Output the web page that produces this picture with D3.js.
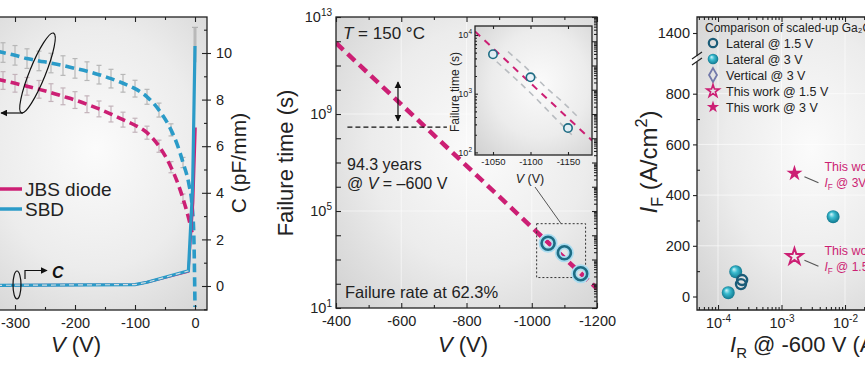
<!DOCTYPE html>
<html>
<head>
<meta charset="utf-8">
<script src="https://cdn.jsdelivr.net/npm/d3@7"></script>
<style>
  body { margin: 0; background: #fff; }
  svg { display: block; }
</style>
</head>
<body>
<svg id="fig" width="865" height="370"></svg>
<script>
// ---- (a) C-V and forward trace, voltages in V, C in pF/mm ----
const cvVolts = [-330, -320, -300, -280, -260, -240, -220, -200, -180, -160, -140, -120, -100, -80, -60, -40, -30, -20, -10, -5, -2, 0]
const sbdCap = [10.08, 10.02, 9.9, 9.76, 9.66, 9.57, 9.46, 9.34, 9.22, 9.07, 8.9, 8.7, 8.47, 8.12, 7.55, 6.7, 6.1, 5.3, 4.35, 3.5, 2.2, -0.9]
const jbsCap = [8.88, 8.82, 8.7, 8.57, 8.44, 8.3, 8.14, 7.98, 7.8, 7.6, 7.38, 7.14, 6.9, 6.58, 6.0, 5.1, 4.5, 3.75, 2.85, 2.3, null, null]
const errVolts = [-320, -300, -280, -260, -240, -220, -200, -180, -160, -140, -120, -100, -80, -60, -40, -20]
const sbdErr = [0.42, 0.42, 0.42, 0.42, 0.42, 0.42, 0.42, 0.4, 0.4, 0.4, 0.38, 0.36, 0.32, 0.3, 0.26, 0.22]
const jbsErr = [0.38, 0.38, 0.38, 0.38, 0.38, 0.36, 0.36, 0.36, 0.34, 0.34, 0.32, 0.3, 0.28, 0.26, 0.24, 0.2]
// current traces (left axis is cropped away, drawn on the C scale)
const sbdIvVolts = [-330, -100, -80, -11, -4, -1.5, 0]
const sbdCur = [0.03, 0.06, 0.16, 0.65, 4.2, 8.0, 10.3]
const jbsIvVolts = [-330, -100, -80, -11, -3, 1]
const jbsCur = [0.03, 0.06, 0.16, 0.62, 3.6, 6.8]
const spikeErr = [9.6, 11.1]

// ---- (b) TDDB lifetime, T = 150 C ----
const tddbVolts = [-1050, -1100, -1150]
const tddbTimes = [4.7e3, 1.9e3, 2.6e2]
const fitVolts = [-400, -1200]
const fitTimes = [8.5e11, 63]
const insetFitVolts = [-1026, -1182]
const insetFitTimes = [1.15e4, 1.6e2]
const bandUpVolts = [-1070, -1095, -1120, -1145, -1165]
const bandUpTimes = [5.2e3, 2.7e3, 1.3e3, 6.8e2, 3.8e2]
const bandLoVolts = [-1055, -1080, -1105, -1130, -1155]
const bandLoTimes = [3.5e3, 1.8e3, 8.9e2, 4.2e2, 2.0e2]
const lifeVolts = [-435, -740]
const lifeTime = 2.9e8
const arrowVolt = -590
const arrowTimes = [2.1e10, 5.2e8]

// ---- (c) benchmark, IR in A/cm2, IF in A/cm2 ----
const lat15IR = [2.4e-4, 2.3e-4]
const lat15IF = [65, 49]
const lat3IR = [1.9e-4, 1.45e-4, 6.5e-3]
const lat3IF = [98, 15, 315]
const work15IR = [1.6e-3]
const work15IF = [157]
const work3IR = [1.6e-3]
const work3IF = [486]
const legendLabels = ['Lateral @ 1.5 V', 'Lateral @ 3 V', 'Vertical @ 3 V', 'This work @ 1.5 V', 'This work @ 3 V']

const ink = '#222'
const pink = '#cc1f74'
const blue = '#2b9bc8'
const teal = '#1d6c84'

const svg = d3.select('#fig')
  .attr('font-family', '"Liberation Sans", Arial, Helvetica, sans-serif')
const defs = svg.append('defs')

const bg = defs.append('radialGradient').attr('id', 'bgGrad')
  .attr('cx', '55%').attr('cy', '45%').attr('r', '75%')
bg.append('stop').attr('offset', '0').attr('stop-color', '#fbfbfb')
bg.append('stop').attr('offset', '0.55').attr('stop-color', '#ececec')
bg.append('stop').attr('offset', '1').attr('stop-color', '#d2d2d2')

const sph = defs.append('radialGradient').attr('id', 'sphere')
  .attr('cx', '50%').attr('cy', '50%').attr('r', '55%').attr('fx', '35%').attr('fy', '30%')
sph.append('stop').attr('offset', '0').attr('stop-color', '#d6f7fb')
sph.append('stop').attr('offset', '0.4').attr('stop-color', '#3bbcd0')
sph.append('stop').attr('offset', '1').attr('stop-color', '#0c6f86')

defs.append('marker').attr('id', 'arrow')
  .attr('viewBox', '0 0 10 10').attr('refX', 9).attr('refY', 5)
  .attr('markerWidth', 7).attr('markerHeight', 7).attr('markerUnits', 'userSpaceOnUse')
  .attr('orient', 'auto-start-reverse')
  .append('path').attr('d', 'M0,0 L10,5 L0,10 z').attr('fill', '#111')

function clip(id, p) {
  defs.append('clipPath').attr('id', id).append('rect')
    .attr('x', p.left).attr('y', p.top)
    .attr('width', p.right - p.left).attr('height', p.bottom - p.top)
}

function panelBg(p) {
  svg.append('rect')
    .attr('x', p.left).attr('y', p.top)
    .attr('width', p.right - p.left).attr('height', p.bottom - p.top)
    .attr('fill', 'url(#bgGrad)')
}

function frame(p) {
  svg.append('rect')
    .attr('x', p.left).attr('y', p.top)
    .attr('width', p.right - p.left).attr('height', p.bottom - p.top)
    .attr('fill', 'none').attr('stroke', ink).attr('stroke-width', 1.3)
}

function axisGroup(gen, tx, ty, size) {
  const a = svg.append('g')
    .attr('transform', `translate(${tx},${ty})`)
    .call(gen)
  a.attr('font-family', null).attr('font-size', size || 14.5)
  a.select('.domain').remove()
  a.selectAll('.tick line').attr('stroke', ink).attr('stroke-width', 1.1)
  a.selectAll('.tick text').attr('fill', ink)
  return a
}

// "10" with a raised exponent
function supLabels(a, supSize, dy) {
  a.selectAll('.tick text').each(function(d) {
    const t = d3.select(this)
    if (t.text() === '') return
    t.text(null)
    t.append('tspan').text('10')
    t.append('tspan').attr('dy', dy).attr('font-size', supSize).text(Math.round(Math.log10(d)))
  })
}

function logMinor(lo, hi) {
  const out = []
  for (let e = lo; e < hi; e++) for (let m = 2; m < 10; m++) out.push(m * Math.pow(10, e))
  return out
}

// text with italic / sub / sup pieces
function richText(x, y, parts, opts) {
  const t = svg.append('text')
    .attr('x', x).attr('y', y)
    .attr('font-size', opts.size)
    .attr('fill', opts.fill || ink)
    .attr('text-anchor', opts.anchor || 'start')
  if (opts.rotate) t.attr('transform', `rotate(-90 ${x} ${y})`)
  let shift = 0
  parts.forEach(function(part) {
    const keys = (part[1] || '').split(' ')
    const ts = t.append('tspan').text(part[0])
    if (keys.includes('i')) ts.attr('font-style', 'italic')
    if (keys.includes('b')) ts.attr('font-weight', 'bold')
    let target = 0
    if (keys.includes('sub')) { target = opts.size * 0.25; ts.attr('font-size', opts.size * 0.68) }
    if (keys.includes('sup')) { target = -opts.size * 0.4; ts.attr('font-size', opts.size * 0.68) }
    if (target !== shift) { ts.attr('dy', target - shift); shift = target }
  })
  return t
}

// =============== panel (a) ===============
const p1 = {left: -40, right: 207, top: 17, bottom: 310}
const x1 = d3.scaleLinear().domain([-300, 0]).range([15, 195])
const y1 = d3.scaleLinear().domain([0, 10]).range([286, 53])
panelBg(p1)
clip('clip1', p1)
const g1 = svg.append('g').attr('clip-path', 'url(#clip1)')

// error bars
function errorBars(caps, errs, color) {
  errVolts.forEach(function(v, i) {
    const c = caps[cvVolts.indexOf(v)]
    const xx = x1(v)
    const top = y1(c + errs[i])
    const bot = y1(c - errs[i])
    const eb = g1.append('g').attr('stroke', color).attr('stroke-width', 1.2)
    eb.append('line').attr('x1', xx).attr('x2', xx).attr('y1', top).attr('y2', bot)
    eb.append('line').attr('x1', xx - 2.5).attr('x2', xx + 2.5).attr('y1', top).attr('y2', top)
    eb.append('line').attr('x1', xx - 2.5).attr('x2', xx + 2.5).attr('y1', bot).attr('y2', bot)
  })
}
errorBars(sbdCap, sbdErr, '#b7b7b7')
errorBars(jbsCap, jbsErr, '#c3b3ba')

const cvLine = d3.line()
  .defined(d => d[1] !== null)
  .x(d => x1(d[0]))
  .y(d => y1(d[1]))
  .curve(d3.curveMonotoneX)

g1.append('path').datum(d3.zip(cvVolts, jbsCap))
  .attr('d', cvLine).attr('fill', 'none')
  .attr('stroke', pink).attr('stroke-width', 3.6).attr('stroke-dasharray', '9 5')
g1.append('path').datum(d3.zip(cvVolts, sbdCap))
  .attr('d', cvLine).attr('fill', 'none')
  .attr('stroke', blue).attr('stroke-width', 3.6).attr('stroke-dasharray', '9 5')

// forward spike error bar
const spx = x1(0)
g1.append('line').attr('x1', spx).attr('x2', spx)
  .attr('y1', y1(spikeErr[0])).attr('y2', y1(spikeErr[1]))
  .attr('stroke', '#b9b9b9').attr('stroke-width', 3)
g1.append('line').attr('x1', spx - 3).attr('x2', spx + 3)
  .attr('y1', y1(spikeErr[1])).attr('y2', y1(spikeErr[1]))
  .attr('stroke', '#b0b0b0').attr('stroke-width', 1.2)

const ivLine = d3.line().x(d => x1(d[0])).y(d => y1(d[1]))
g1.append('path').datum(d3.zip(jbsIvVolts, jbsCur))
  .attr('d', ivLine).attr('fill', 'none')
  .attr('stroke', pink).attr('stroke-width', 2.4)
g1.append('path').datum(d3.zip(sbdIvVolts, sbdCur))
  .attr('d', ivLine).attr('fill', 'none')
  .attr('stroke', blue).attr('stroke-width', 3.2)
g1.append('path').datum(d3.zip(sbdIvVolts.slice(0, 4), sbdCur.slice(0, 4)))
  .attr('d', ivLine).attr('fill', 'none')
  .attr('stroke', '#d6dde2').attr('stroke-width', 1.2).attr('stroke-dasharray', '5 4')

// axis annotations (ellipses + arrows)
svg.append('ellipse')
  .attr('cx', 37.5).attr('cy', 73).attr('rx', 8).attr('ry', 43)
  .attr('transform', 'rotate(22 37.5 73)')
  .attr('fill', 'none').attr('stroke', '#111').attr('stroke-width', 1.2)
svg.append('line')
  .attr('x1', 23).attr('y1', 113).attr('x2', 1).attr('y2', 113)
  .attr('stroke', '#111').attr('stroke-width', 1.2).attr('marker-end', 'url(#arrow)')
svg.append('ellipse')
  .attr('cx', 17).attr('cy', 285).attr('rx', 4).attr('ry', 14)
  .attr('fill', 'none').attr('stroke', '#111').attr('stroke-width', 1.2)
svg.append('path')
  .attr('d', 'M25,279 V270.5 H47')
  .attr('fill', 'none').attr('stroke', '#111').attr('stroke-width', 1.2).attr('marker-end', 'url(#arrow)')
richText(52, 278, [['C', 'i b']], {size: 16, fill: '#111'})

// legend
svg.append('line').attr('x1', -2).attr('x2', 22).attr('y1', 189).attr('y2', 189)
  .attr('stroke', pink).attr('stroke-width', 3.5)
svg.append('line').attr('x1', -2).attr('x2', 22).attr('y1', 209).attr('y2', 209)
  .attr('stroke', blue).attr('stroke-width', 3.5)
richText(25, 196, [['JBS diode']], {size: 19})
richText(25, 216, [['SBD']], {size: 19})

frame(p1)
axisGroup(d3.axisBottom(x1).tickValues([-300, -200, -100, 0]).tickSizeInner(-5).tickSizeOuter(0)
  .tickPadding(8).tickFormat(d => String(d)), 0, p1.bottom)
axisGroup(d3.axisBottom(x1).tickValues([-350, -250, -150, -50]).tickSizeInner(-3).tickSizeOuter(0)
  .tickFormat(''), 0, p1.bottom)
axisGroup(d3.axisTop(x1).tickValues([-300, -200, -100, 0]).tickSizeInner(-5).tickSizeOuter(0)
  .tickFormat(''), 0, p1.top)
axisGroup(d3.axisTop(x1).tickValues([-350, -250, -150, -50]).tickSizeInner(-3).tickSizeOuter(0)
  .tickFormat(''), 0, p1.top)
const r1 = axisGroup(d3.axisRight(y1).tickValues([0, 2, 4, 6, 8, 10]).tickSizeInner(4).tickSizeOuter(0)
  .tickPadding(5), p1.right, 0)
r1.selectAll('.tick line').attr('x1', -5)
axisGroup(d3.axisRight(y1).tickValues([-1, 1, 3, 5, 7, 9, 11]).tickSizeInner(-3).tickSizeOuter(0)
  .tickFormat(''), p1.right, 0)

richText(246, 163, [['C (pF/mm)']], {size: 21, anchor: 'middle', rotate: true})
richText(76, 352, [['V', 'i'], [' (V)']], {size: 22, anchor: 'middle'})

// =============== panel (b) ===============
const p2 = {left: 336, right: 597, top: 17, bottom: 308}
const x2 = d3.scaleLinear().domain([-400, -1200]).range([336, 597])
const y2 = d3.scaleLog().domain([1e1, 1e13]).range([308, 17])
panelBg(p2)
clip('clip2', p2)
const decades2 = d3.range(1, 14).map(e => Math.pow(10, e))

const grid2 = svg.append('g').attr('stroke', '#fff').attr('stroke-opacity', 0.55)
;[-600, -800, -1000].forEach(v => grid2.append('line')
  .attr('x1', x2(v)).attr('x2', x2(v)).attr('y1', p2.top).attr('y2', p2.bottom))
;[1e5, 1e9].forEach(t => grid2.append('line')
  .attr('x1', p2.left).attr('x2', p2.right).attr('y1', y2(t)).attr('y2', y2(t)))

const g2 = svg.append('g').attr('clip-path', 'url(#clip2)')
const fitLine2 = d3.line().x(d => x2(d[0])).y(d => y2(d[1]))
g2.append('path').datum(d3.zip(fitVolts, fitTimes))
  .attr('d', fitLine2).attr('fill', 'none')
  .attr('stroke', pink).attr('stroke-width', 4.5).attr('stroke-dasharray', '10 6')

g2.append('line')
  .attr('x1', x2(lifeVolts[0])).attr('x2', x2(lifeVolts[1]))
  .attr('y1', y2(lifeTime)).attr('y2', y2(lifeTime))
  .attr('stroke', '#111').attr('stroke-width', 1.2).attr('stroke-dasharray', '5 3')
g2.append('line')
  .attr('x1', x2(arrowVolt)).attr('x2', x2(arrowVolt))
  .attr('y1', y2(arrowTimes[0])).attr('y2', y2(arrowTimes[1]))
  .attr('stroke', '#111').attr('stroke-width', 1.2)
  .attr('marker-start', 'url(#arrow)').attr('marker-end', 'url(#arrow)')

// zoom box and leader line
const boxV = [-1015, -1165]
const boxT = [3.0e4, 1.8e2]
g2.append('rect')
  .attr('x', x2(boxV[0])).attr('y', y2(boxT[0]))
  .attr('width', x2(boxV[1]) - x2(boxV[0])).attr('height', y2(boxT[1]) - y2(boxT[0]))
  .attr('fill', 'none').attr('stroke', '#333').attr('stroke-width', 1).attr('stroke-dasharray', '2 2')
svg.append('line')
  .attr('x1', 535).attr('y1', 187).attr('x2', x2(-1090)).attr('y2', y2(boxT[0]))
  .attr('stroke', '#555').attr('stroke-width', 1)

const circ2 = g2.selectAll('g.pt').data(d3.zip(tddbVolts, tddbTimes)).enter().append('g')
circ2.append('circle')
  .attr('cx', d => x2(d[0])).attr('cy', d => y2(d[1])).attr('r', 6.5)
  .attr('fill', 'none').attr('stroke', '#a9dcf0').attr('stroke-width', 6)
circ2.append('circle')
  .attr('cx', d => x2(d[0])).attr('cy', d => y2(d[1])).attr('r', 6.5)
  .attr('fill', 'none').attr('stroke', teal).attr('stroke-width', 2.6)

richText(343, 39, [['T', 'i'], [' = 150 °C']], {size: 17})
richText(347, 170, [['94.3 years']], {size: 16})
richText(347, 189, [['@ '], ['V', 'i'], [' = –600 V']], {size: 16})
richText(345, 298, [['Failure rate at 62.3%']], {size: 16.5})

frame(p2)
const left2 = axisGroup(d3.axisLeft(y2).tickValues(decades2).tickSizeInner(-5).tickSizeOuter(0).tickPadding(4)
  .tickFormat(d => (Math.round(Math.log10(d)) - 1) % 4 === 0 ? 'x' : ''), p2.left, 0)
supLabels(left2, 10, -6)
axisGroup(d3.axisRight(y2).tickValues(decades2).tickSizeInner(-5).tickSizeOuter(0)
  .tickFormat(''), p2.right, 0)
axisGroup(d3.axisRight(y2).tickValues(logMinor(1, 13)).tickSizeInner(-3).tickSizeOuter(0)
  .tickFormat(''), p2.right, 0)
axisGroup(d3.axisBottom(x2).tickValues([-400, -600, -800, -1000, -1200]).tickSizeInner(-5).tickSizeOuter(0)
  .tickPadding(8).tickFormat(d => String(d)), 0, p2.bottom)
axisGroup(d3.axisBottom(x2).tickValues([-500, -700, -900, -1100]).tickSizeInner(-3).tickSizeOuter(0)
  .tickFormat(''), 0, p2.bottom)
axisGroup(d3.axisTop(x2).tickValues([-400, -600, -800, -1000, -1200]).tickSizeInner(-5).tickSizeOuter(0)
  .tickFormat(''), 0, p2.top)
axisGroup(d3.axisTop(x2).tickValues([-500, -700, -900, -1100]).tickSizeInner(-3).tickSizeOuter(0)
  .tickFormat(''), 0, p2.top)

richText(293, 163, [['Failure time (s)']], {size: 22, anchor: 'middle', rotate: true})
richText(463, 352, [['V', 'i'], [' (V)']], {size: 22, anchor: 'middle'})

// ---- inset ----
const pi = {left: 475, right: 592, top: 26, bottom: 155}
const xi = d3.scaleLinear().domain([-1050, -1150]).range([493, 568])
const yi = d3.scaleLog().domain([1e2, 1e4]).range([152.4, 35])
panelBg(pi)
clip('clipI', pi)
const gi = svg.append('g').attr('clip-path', 'url(#clipI)')
const fitLineI = d3.line().x(d => xi(d[0])).y(d => yi(d[1])).curve(d3.curveMonotoneX)
gi.append('path').datum(d3.zip(bandUpVolts, bandUpTimes))
  .attr('d', fitLineI).attr('fill', 'none')
  .attr('stroke', '#b8bcc0').attr('stroke-width', 1.6).attr('stroke-dasharray', '6 5')
gi.append('path').datum(d3.zip(bandLoVolts, bandLoTimes))
  .attr('d', fitLineI).attr('fill', 'none')
  .attr('stroke', '#b8bcc0').attr('stroke-width', 1.6).attr('stroke-dasharray', '6 5')
gi.append('path').datum(d3.zip(insetFitVolts, insetFitTimes))
  .attr('d', fitLineI).attr('fill', 'none')
  .attr('stroke', pink).attr('stroke-width', 2).attr('stroke-dasharray', '7 6')
gi.selectAll('circle').data(d3.zip(tddbVolts, tddbTimes)).enter().append('circle')
  .attr('cx', d => xi(d[0])).attr('cy', d => yi(d[1])).attr('r', 4.2)
  .attr('fill', 'rgba(220,240,250,0.6)').attr('stroke', teal).attr('stroke-width', 1.6)
frame(pi)
const leftI = axisGroup(d3.axisLeft(yi).tickValues([1e2, 1e3, 1e4]).tickSizeInner(-3).tickSizeOuter(0)
  .tickPadding(3), pi.left, 0, 9)
supLabels(leftI, 6.5, -4)
axisGroup(d3.axisLeft(yi).tickValues(logMinor(2, 4)).tickSizeInner(-2).tickSizeOuter(0)
  .tickFormat(''), pi.left, 0)
axisGroup(d3.axisBottom(xi).tickValues([-1050, -1100, -1150]).tickSizeInner(-3).tickSizeOuter(0)
  .tickPadding(3).tickFormat(d => String(d)), 0, pi.bottom, 9.5)
axisGroup(d3.axisTop(xi).tickValues([-1050, -1100, -1150]).tickSizeInner(-3).tickSizeOuter(0)
  .tickFormat(''), 0, pi.top)
richText(459, 92, [['Failure time (s)']], {size: 12, anchor: 'middle', rotate: true})
richText(530, 183, [['V', 'i'], [' (V)']], {size: 12.5, anchor: 'middle'})

// =============== panel (c) ===============
const p3 = {left: 697, right: 905, top: 17, bottom: 310}
const x3 = d3.scaleLog().domain([1e-4, 1e-2]).range([718, 845])
const y3 = d3.scaleLinear().domain([0, 800]).range([296.5, 93.7])
const y3top = d3.scaleLinear().domain([1400, 1500]).range([33, 7.65])
panelBg(p3)
clip('clip3', p3)

const grid3 = svg.append('g').attr('stroke', '#fff').attr('stroke-opacity', 0.6)
;[200, 400, 600, 800].forEach(v => grid3.append('line')
  .attr('x1', p3.left).attr('x2', p3.right).attr('y1', y3(v)).attr('y2', y3(v)))
;[1e-4, 1e-3, 1e-2].forEach(v => grid3.append('line')
  .attr('x1', x3(v)).attr('x2', x3(v)).attr('y1', p3.top).attr('y2', p3.bottom))

const g3 = svg.append('g').attr('clip-path', 'url(#clip3)')
g3.selectAll('circle.l3').data(d3.zip(lat3IR, lat3IF)).enter().append('circle')
  .attr('cx', d => x3(d[0])).attr('cy', d => y3(d[1])).attr('r', 6.5)
  .attr('fill', 'url(#sphere)')
g3.selectAll('circle.l15').data(d3.zip(lat15IR, lat15IF)).enter().append('circle')
  .attr('cx', d => x3(d[0])).attr('cy', d => y3(d[1])).attr('r', 5)
  .attr('fill', 'none').attr('stroke', '#1b5c78').attr('stroke-width', 2.4)
const star = d3.symbol().type(d3.symbolStar)
g3.selectAll('path.w3').data(d3.zip(work3IR, work3IF)).enter().append('path')
  .attr('transform', d => `translate(${x3(d[0])},${y3(d[1])})`)
  .attr('d', star.size(80)).attr('fill', pink)
g3.selectAll('path.w15').data(d3.zip(work15IR, work15IF)).enter().append('path')
  .attr('transform', d => `translate(${x3(d[0])},${y3(d[1])})`)
  .attr('d', star.size(80)).attr('fill', 'none').attr('stroke', pink).attr('stroke-width', 2)

// callouts
function callout(ir, iff, lead) {
  const sx = x3(ir)
  const sy = y3(iff)
  g3.append('line').attr('x1', sx + 10).attr('y1', sy + 3.5).attr('x2', sx + 24).attr('y2', sy + 9.5)
    .attr('stroke', '#555').attr('stroke-width', 1.2)
  richText(sx + 30, sy - 2, [['This work']], {size: 12.5, fill: pink})
  richText(sx + 30, sy + 14, [['I', 'i'], ['F', 'sub'], [' @ ' + lead]], {size: 12, fill: pink})
}
callout(work3IR[0], work3IF[0], '3V')
callout(work15IR[0], work15IF[0], '1.5V')

// legend
const lg = svg.append('g')
const rows = [43, 59, 75, 91, 107]
richText(705, 32, [['Comparison of scaled-up Ga₂O₃ SBDs']], {size: 12})
lg.append('circle').attr('cx', 713).attr('cy', rows[0]).attr('r', 4.2)
  .attr('fill', 'none').attr('stroke', '#1b5c78').attr('stroke-width', 2.2)
lg.append('circle').attr('cx', 713).attr('cy', rows[1]).attr('r', 5.3).attr('fill', 'url(#sphere)')
lg.append('path').attr('transform', `translate(713,${rows[2]})`)
  .attr('d', d3.symbol().type(d3.symbolDiamond).size(55))
  .attr('fill', 'none').attr('stroke', '#7279aa').attr('stroke-width', 1.8)
lg.append('path').attr('transform', `translate(713,${rows[3]})`)
  .attr('d', star.size(48)).attr('fill', 'none').attr('stroke', pink).attr('stroke-width', 1.6)
lg.append('path').attr('transform', `translate(713,${rows[4]})`)
  .attr('d', star.size(48)).attr('fill', pink)
legendLabels.forEach((s, i) => richText(726, rows[i] + 4.5, [[s]], {size: 12.5}))

// frame with axis break on the left
const fr3 = svg.append('g').attr('stroke', ink).attr('stroke-width', 1.3).attr('fill', 'none')
fr3.append('path').attr('d', `M${p3.right},${p3.top} H${p3.left} V56 M${p3.left},62 V${p3.bottom} H${p3.right}`)
fr3.append('path').attr('d', 'M692,59 L702,52 M692,65 L702,58').attr('stroke-width', 1.2)

axisGroup(d3.axisLeft(y3).tickValues([0, 200, 400, 600, 800]).tickSizeInner(4).tickSizeOuter(0)
  .tickPadding(3).tickFormat(d => String(d)), p3.left, 0)
axisGroup(d3.axisLeft(y3top).tickValues([1400]).tickSizeInner(4).tickSizeOuter(0)
  .tickPadding(3).tickFormat(d => String(d)), p3.left, 0)
axisGroup(d3.axisLeft(y3).tickValues([100, 300, 500, 700]).tickSizeInner(-3).tickSizeOuter(0)
  .tickFormat(''), p3.left, 0)
const bot3 = axisGroup(d3.axisBottom(x3).tickValues([1e-4, 1e-3, 1e-2, 1e-1]).tickSizeInner(-5).tickSizeOuter(0)
  .tickPadding(8), 0, p3.bottom)
supLabels(bot3, 10, -6)
axisGroup(d3.axisBottom(x3).tickValues(logMinor(-5, -1).filter(v => v > 4.8e-5)).tickSizeInner(-3).tickSizeOuter(0)
  .tickFormat(''), 0, p3.bottom)
axisGroup(d3.axisTop(x3).tickValues([1e-4, 1e-3, 1e-2, 1e-1]).tickSizeInner(-5).tickSizeOuter(0)
  .tickFormat(''), 0, p3.top)
axisGroup(d3.axisTop(x3).tickValues(logMinor(-5, -1).filter(v => v > 4.8e-5)).tickSizeInner(-3).tickSizeOuter(0)
  .tickFormat(''), 0, p3.top)

richText(657, 162, [['I', 'i'], ['F', 'sub'], [' (A/cm'], ['2', 'sup'], [')']], {size: 24, anchor: 'middle', rotate: true})
richText(730, 352, [['I', 'i'], ['R', 'sub'], [' @ -600 V (A/cm'], ['2', 'sup'], [')']], {size: 22})
</script>
</body>
</html>
